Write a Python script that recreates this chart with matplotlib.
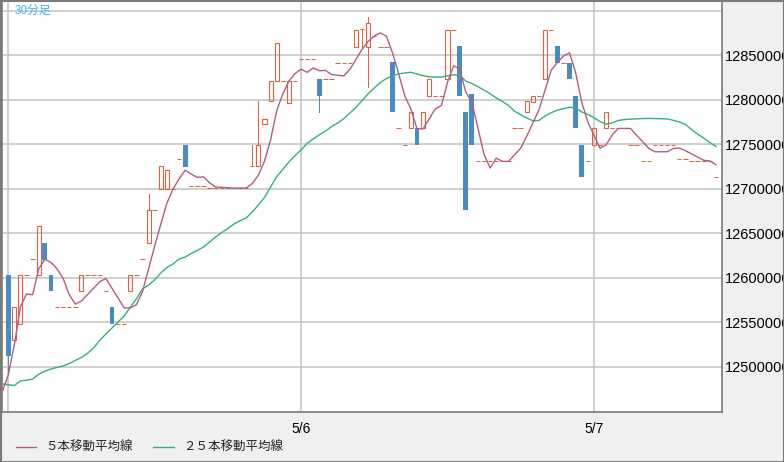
import matplotlib
matplotlib.use('Agg')
import matplotlib.pyplot as plt
from matplotlib.patches import Rectangle
from matplotlib.lines import Line2D
import numpy as np

# ---------------- data (prices in thousand yen) ----------------
UNIT = 1000
opens = [12603, 12530, 12548, 12603, 12621, 12603, 12639, 12603, 12567, 12567,
         12567, 12567, 12585, 12603, 12603, 12603, 12585, 12567, 12548, 12548,
         12585, 12603, 12621, 12639, 12676, 12700, 12700, 12700, 12734, 12749,
         12703, 12703, 12703, 12701, 12701, 12701, 12701, 12701, 12701, 12701,
         12726, 12726, 12773, 12799, 12821, 12821, 12797, 12821, 12846, 12846,
         12846, 12824, 12823, 12823, 12842, 12842, 12842, 12860, 12880, 12860,
         12872, 12860, 12860, 12843, 12768, 12749, 12768, 12768, 12768, 12805,
         12805, 12805, 12823, 12879, 12861, 12786, 12807, 12731, 12731, 12731,
         12731, 12731, 12731, 12768, 12768, 12786, 12798, 12805, 12823, 12879,
         12861, 12842, 12842, 12805, 12749, 12731, 12749, 12749, 12768, 12768,
         12768, 12768, 12749, 12749, 12731, 12731, 12749, 12749, 12749, 12749,
         12734, 12734, 12731, 12731, 12731, 12731, 12713]
highs = [12603, 12567, 12603, 12603, 12621, 12658, 12639, 12603, 12567, 12567,
         12567, 12567, 12603, 12603, 12603, 12603, 12585, 12567, 12548, 12548,
         12603, 12603, 12621, 12694, 12676, 12726, 12721, 12700, 12734, 12749,
         12703, 12703, 12703, 12701, 12701, 12701, 12701, 12701, 12701, 12701,
         12749, 12799, 12779, 12821, 12864, 12821, 12821, 12821, 12846, 12846,
         12846, 12824, 12823, 12823, 12842, 12842, 12842, 12879, 12880, 12893,
         12872, 12860, 12860, 12843, 12768, 12749, 12786, 12768, 12786, 12824,
         12805, 12805, 12879, 12879, 12861, 12786, 12807, 12731, 12731, 12731,
         12731, 12731, 12731, 12768, 12768, 12799, 12805, 12805, 12879, 12879,
         12861, 12842, 12842, 12805, 12749, 12731, 12768, 12749, 12787, 12768,
         12768, 12768, 12749, 12749, 12731, 12731, 12749, 12749, 12749, 12749,
         12734, 12734, 12731, 12731, 12731, 12731, 12713]
lows = [12495, 12530, 12548, 12603, 12621, 12603, 12620, 12585, 12567, 12567,
        12567, 12567, 12585, 12603, 12603, 12603, 12585, 12548, 12548, 12548,
        12585, 12603, 12621, 12639, 12676, 12700, 12700, 12700, 12734, 12725,
        12703, 12703, 12703, 12701, 12701, 12701, 12701, 12701, 12701, 12701,
        12726, 12726, 12773, 12799, 12821, 12821, 12797, 12821, 12846, 12846,
        12846, 12786, 12823, 12823, 12842, 12842, 12842, 12860, 12860, 12815,
        12872, 12860, 12860, 12786, 12768, 12749, 12768, 12749, 12768, 12805,
        12805, 12805, 12823, 12879, 12805, 12676, 12749, 12731, 12731, 12731,
        12731, 12731, 12731, 12768, 12768, 12786, 12798, 12805, 12823, 12879,
        12842, 12842, 12823, 12768, 12713, 12731, 12749, 12749, 12768, 12768,
        12768, 12768, 12749, 12749, 12731, 12731, 12749, 12749, 12749, 12749,
        12734, 12734, 12731, 12731, 12731, 12731, 12713]
closes = [12512, 12567, 12603, 12603, 12621, 12658, 12620, 12585, 12567, 12567,
          12567, 12567, 12603, 12603, 12603, 12603, 12585, 12548, 12548, 12548,
          12603, 12603, 12621, 12676, 12676, 12726, 12721, 12700, 12734, 12725,
          12703, 12703, 12703, 12701, 12701, 12701, 12701, 12701, 12701, 12701,
          12726, 12749, 12779, 12821, 12864, 12821, 12821, 12821, 12846, 12846,
          12846, 12805, 12823, 12823, 12842, 12842, 12842, 12879, 12880, 12886,
          12872, 12860, 12860, 12786, 12768, 12749, 12786, 12749, 12786, 12824,
          12805, 12805, 12879, 12879, 12805, 12676, 12749, 12731, 12731, 12731,
          12731, 12731, 12731, 12768, 12768, 12799, 12805, 12805, 12879, 12879,
          12842, 12842, 12823, 12768, 12713, 12731, 12768, 12749, 12787, 12768,
          12768, 12768, 12749, 12749, 12731, 12731, 12749, 12749, 12749, 12749,
          12734, 12734, 12731, 12731, 12731, 12731, 12713]
# moving averages, first value belongs to the bar just before the first visible bar
ma5 = [12472, 12491, 12525, 12568, 12582, 12581.2, 12610.4, 12621.0, 12617.4, 12610.2,
       12599.4, 12581.2, 12570.6, 12574.2, 12581.4, 12588.6, 12595.8, 12599.4, 12588.4, 12577.4,
       12566.4, 12566.4, 12570.0, 12584.6, 12610.2, 12635.8, 12660.4, 12684.0, 12699.8, 12711.4,
       12721.2, 12716.6, 12713.0, 12713.6, 12707.0, 12702.2, 12701.8, 12701.4, 12701, 12701,
       12701, 12706.0, 12715.6, 12731.2, 12755.2, 12787.8, 12806.8, 12821.2, 12829.6, 12834.6,
       12831.0, 12836.0, 12832.8, 12833.2, 12828.6, 12827.8, 12827.0, 12834.4, 12845.6, 12857.0,
       12865.8, 12871.8, 12875.4, 12871.6, 12852.8, 12829.2, 12804.6, 12789.8, 12767.6, 12767.6,
       12778.8, 12790.0, 12793.8, 12819.8, 12838.4, 12834.6, 12808.8, 12797.6, 12768.0, 12738.4,
       12723.6, 12734.6, 12731, 12731, 12738.4, 12745.8, 12759.4, 12774.2, 12789.0, 12811.2,
       12833.4, 12842.0, 12849.4, 12853.0, 12830.8, 12797.6, 12775.4, 12760.6, 12745.8, 12749.6,
       12760.6, 12768, 12768, 12768, 12760.4, 12753.0, 12745.6, 12741.8, 12741.8, 12741.8,
       12745.4, 12746.0, 12743.0, 12739.4, 12735.8, 12732.2, 12731.6, 12727.4]
ma25 = [12481, 12480, 12479.2, 12484.3, 12485.2, 12486.5, 12492, 12495.3, 12497.7, 12499.5,
        12501.1, 12504, 12507.4, 12510.7, 12515.4, 12521.6, 12529.8, 12537.1, 12543.8, 12550.6,
        12557.3, 12566.9, 12576.7, 12587.6, 12592.1, 12597.8, 12605.6, 12611.8, 12615.7, 12621.3,
        12623.4, 12627.5, 12631, 12634.8, 12640.4, 12646.1, 12651.1, 12655.6, 12660.7, 12664.3,
        12667.4, 12674.2, 12682, 12690.4, 12702.2, 12714, 12721.9, 12730.3, 12737.4, 12743.8,
        12751.3, 12756.2, 12760.9, 12765.2, 12770.1, 12774.2, 12779, 12785.4, 12791.6, 12799.4,
        12807.1, 12813.5, 12819.7, 12824.1, 12827.3, 12829.4, 12830.3, 12831.1, 12829.2, 12827.3,
        12826, 12825.6, 12825.8, 12827.2, 12828.3, 12827.5, 12821.3, 12818.5, 12814.9, 12811,
        12807, 12802.2, 12798.3, 12793.8, 12787.3, 12783.5, 12779.8, 12776.6, 12777, 12782,
        12785.7, 12788.5, 12790.2, 12791.7, 12791.3, 12786.5, 12783.9, 12780, 12775.8, 12772.8,
        12774.2, 12776.9, 12778, 12778.4, 12778.8, 12779.1, 12779.3, 12779.1, 12778.9, 12778.7,
        12777.2, 12775.3, 12772.5, 12766.8, 12761.7, 12757.2, 12752.2, 12747.8]
date_tick_bars = [0, 48, 96]
date_labels = ['', '5/6', '5/7']
price_ticks = [12500000, 12550000, 12600000, 12650000, 12700000, 12750000, 12800000, 12850000]
grid_prices = price_ticks + [12900000]
title_text = '30分足'
legend_texts = ['５本移動平均線', '２５本移動平均線']

# ---------------- style ----------------
UP = '#df6142'
DOWN = '#4a8bc1'
MA5_C = '#b25c86'
MA25_C = '#2fb37b'
GRID = '#c8c8c8'
FRAME = '#7a7a7a'
W, H = 784, 462

fig = plt.figure(figsize=(W / 100, H / 100), dpi=100, facecolor='#f0f0f0')
ax = fig.add_axes([2 / W, 1 - 412 / H, 720 / W, 411 / H])
ax.set_facecolor('white')

px = 0.72  # one pixel in points
o = np.array(opens) * UNIT
hi = np.array(highs) * UNIT
lo = np.array(lows) * UNIT
c = np.array(closes) * UNIT
n = len(c)
idx = np.arange(n)

for i in range(n):
    if o[i] == c[i] == hi[i] == lo[i]:
        ax.plot([i - 0.36, i + 0.36], [c[i], c[i]], color=UP, lw=px, solid_capstyle='butt', zorder=3)
        continue
    if c[i] >= o[i]:
        if hi[i] > max(o[i], c[i]):
            ax.plot([i, i], [max(o[i], c[i]), hi[i]], color=UP, lw=px, zorder=3)
        if lo[i] < min(o[i], c[i]):
            ax.plot([i, i], [lo[i], min(o[i], c[i])], color=UP, lw=px, zorder=3)
        if c[i] == o[i]:
            ax.plot([i - 0.36, i + 0.36], [c[i], c[i]], color=UP, lw=px, solid_capstyle='butt', zorder=3)
        else:
            ax.add_patch(Rectangle((i - 0.33, o[i]), 0.66, c[i] - o[i], facecolor='none',
                                   edgecolor=UP, lw=px * 1.1, zorder=3))
    else:
        if hi[i] > o[i]:
            ax.plot([i, i], [o[i], hi[i]], color=DOWN, lw=px, zorder=3)
        if lo[i] < c[i]:
            ax.plot([i, i], [lo[i], c[i]], color=DOWN, lw=px, zorder=3)
        ax.add_patch(Rectangle((i - 0.4, c[i]), 0.8, o[i] - c[i], facecolor=DOWN,
                               edgecolor='none', zorder=3))

ma_x = np.arange(-1, n)
ax.plot(ma_x, np.array(ma25) * UNIT, color=MA25_C, lw=1.0, zorder=4)
ax.plot(ma_x, np.array(ma5) * UNIT, color=MA5_C, lw=1.0, zorder=5)

ax.set_xlim(-1.03, 117.0)
ax.set_ylim(12449400, 12911200)

for gp in grid_prices:
    ax.axhline(gp, color=GRID, lw=1.2, zorder=1)
for b in date_tick_bars:
    ax.axvline(b, color=GRID, lw=1.2, zorder=1)

ax.yaxis.tick_right()
ax.set_yticks(price_ticks)
ax.set_yticklabels([str(p) for p in price_ticks], fontsize=10.5, family='Liberation Sans')
ax.tick_params(axis='y', length=0, pad=2, colors='black')
ax.set_xticks(date_tick_bars)
ax.set_xticklabels(date_labels, fontsize=10, family='Liberation Sans')
ax.tick_params(axis='x', length=0, pad=7, colors='black')
for s in ax.spines.values():
    s.set_color(FRAME)
    s.set_linewidth(1.2)

ax.text(13 / 720, 1 - 3 / 411, title_text, transform=ax.transAxes, ha='left', va='top',
        fontsize=8.5, color='#3ab6f0', family=['Noto Sans CJK JP', 'DejaVu Sans'])

# legend
ly = 1 - 447 / H
fig.add_artist(Line2D([16 / W, 36 / W], [ly, ly], color=MA5_C, lw=1.0, transform=fig.transFigure))
fig.text(45 / W, ly, legend_texts[0], va='center', ha='left', fontsize=9,
         family=['Noto Sans CJK JP', 'DejaVu Sans'], color='#222222')
fig.add_artist(Line2D([153 / W, 174 / W], [ly, ly], color=MA25_C, lw=1.0, transform=fig.transFigure))
fig.text(183 / W, ly, legend_texts[1], va='center', ha='left', fontsize=9,
         family=['Noto Sans CJK JP', 'DejaVu Sans'], color='#222222')

# outer frame
fig.add_artist(Rectangle((0.5 / W, 0.5 / H), (W - 1) / W, (H - 1) / H, transform=fig.transFigure,
                         facecolor='none', edgecolor=FRAME, lw=1.5))

fig.savefig('out.png', dpi=100, facecolor=fig.get_facecolor())
